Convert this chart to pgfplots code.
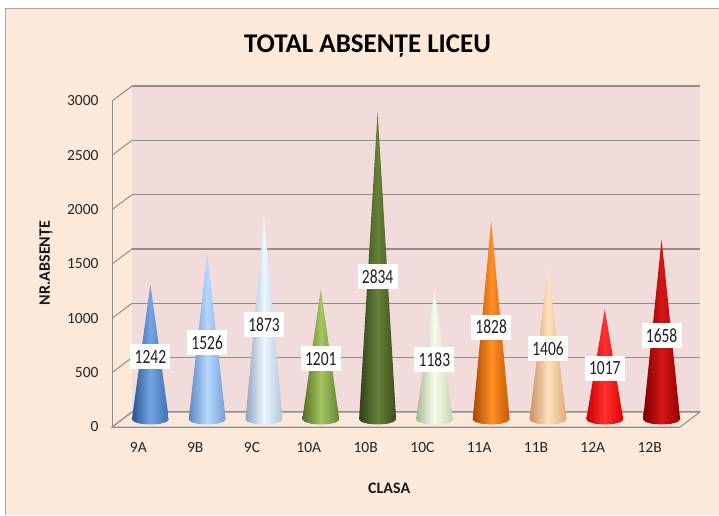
\documentclass[border=0pt]{standalone}
\usepackage{graphicx}
\usepackage{fontspec}
\setmainfont{Carlito}
\usepackage{pgfplots}
\pgfplotsset{compat=1.18}
\usepackage{pgfplotstable}

\definecolor{bg}{HTML}{FDE9D9}
\definecolor{wall}{HTML}{F2DCDB}
\definecolor{floorc}{HTML}{FCE8DA}
\definecolor{gridc}{HTML}{8E8E8E}
\definecolor{frame}{HTML}{A6A6A6}

\pgfplotstableread{
x v
1 1242
2 1526
3 1873
4 1201
5 2834
6 1183
7 1828
8 1406
9 1017
10 1658
}\absdata

\pgfplotsset{
  common/.style={
    scale only axis, anchor=south west,
    width=568pt, height=326pt,
    xmin=0.5, xmax=10.5, ymin=0, ymax=3000,
  },
  cone/.style n args={3}{draw=none, left color={rgb,255:#1}, right color={rgb,255:#2}, middle color={rgb,255:#3}},
}

\begin{document}
\begin{tikzpicture}[x=1pt,y=1pt]
\useasboundingbox (0,0) rectangle (719,515);
\fill[white] (0,0) rectangle (719,515);
\fill[bg] (5,0) rectangle (719,506);
\draw[frame, line width=1pt] (5,0) -- (5,506) -- (719,506);

% back wall with gridlines
\begin{axis}[common, at={(132pt,103pt)},
  axis line style={draw=none},
  xtick=\empty, ytick={0,500,...,3000}, yticklabels={},
  major tick length=0pt,
  ymajorgrids, grid style={gridc, line width=1.4pt},
  axis background/.style={fill=wall}]
\end{axis}

% floor
\filldraw[fill=floorc, draw=gridc, line width=1pt] (112,88) -- (680,88) -- (700,103) -- (132,103) -- cycle;
% depth diagonals on the left
\foreach \k in {0,...,6} \draw[gridc, line width=1pt] (112,88+\k*54.3333) -- (132,103+\k*54.3333);

% cones at mid depth
\begin{axis}[common, at={(122pt,95.5pt)}, hide axis, clip=false]
\addplot[cone={red,40;green,85;blue,145}{red,60;green,110;blue,175}{red,115;green,165;blue,228}]
 coordinates {(0.674,0) (1,1242) (1.326,0) (1.282,-23) (1.163,-40) (1,-46) (0.837,-40) (0.718,-23)};
\addplot[cone={red,95;green,135;blue,192}{red,118;green,158;blue,212}{red,182;green,216;blue,255}]
 coordinates {(1.674,0) (2,1526) (2.326,0) (2.282,-23) (2.163,-40) (2,-46) (1.837,-40) (1.718,-23)};
\addplot[cone={red,145;green,165;blue,192}{red,178;green,196;blue,220}{red,236;green,246;blue,255}]
 coordinates {(2.674,0) (3,1873) (3.326,0) (3.282,-23) (3.163,-40) (3,-46) (2.837,-40) (2.718,-23)};
\addplot[cone={red,82;green,110;blue,38}{red,100;green,130;blue,50}{red,165;green,198;blue,95}]
 coordinates {(3.674,0) (4,1201) (4.326,0) (4.282,-23) (4.163,-40) (4,-46) (3.837,-40) (3.718,-23)};
\addplot[cone={red,48;green,64;blue,24}{red,60;green,78;blue,30}{red,102;green,130;blue,56}]
 coordinates {(4.674,0) (5,2834) (5.326,0) (5.282,-23) (5.163,-40) (5,-46) (4.837,-40) (4.718,-23)};
\addplot[cone={red,165;green,184;blue,145}{red,195;green,210;blue,175}{red,248;green,253;blue,236}]
 coordinates {(5.674,0) (6,1183) (6.326,0) (6.282,-23) (6.163,-40) (6,-46) (5.837,-40) (5.718,-23)};
\addplot[cone={red,168;green,72;blue,0}{red,195;green,92;blue,5}{red,255;green,142;blue,36}]
 coordinates {(6.674,0) (7,1828) (7.326,0) (7.282,-23) (7.163,-40) (7,-46) (6.837,-40) (6.718,-23)};
\addplot[cone={red,200;green,145;blue,100}{red,222;green,170;blue,125}{red,255;green,225;blue,188}]
 coordinates {(7.674,0) (8,1406) (8.326,0) (8.282,-23) (8.163,-40) (8,-46) (7.837,-40) (7.718,-23)};
\addplot[cone={red,200;green,0;blue,0}{red,222;green,0;blue,0}{red,255;green,48;blue,48}]
 coordinates {(8.674,0) (9,1017) (9.326,0) (9.282,-23) (9.163,-40) (9,-46) (8.837,-40) (8.718,-23)};
\addplot[cone={red,120;green,0;blue,0}{red,150;green,0;blue,0}{red,215;green,22;blue,22}]
 coordinates {(9.674,0) (10,1658) (10.326,0) (10.282,-23) (10.163,-40) (10,-46) (9.837,-40) (9.718,-23)};
% data labels
\addplot[draw=none, mark=none, point meta=explicit symbolic,
  nodes near coords={\scalebox{1}[1.3]{\pgfplotspointmeta}},
  every node near coord/.append style={anchor=center, fill=white, text=black!88,
    font=\fontsize{15.5}{18}\selectfont, minimum width=40pt, minimum height=25pt, inner sep=0pt}]
  table[x=x, y expr=0.465*\thisrow{v}, meta=v] {\absdata};
\end{axis}

% front axis with ticks and labels
\begin{axis}[common, at={(112pt,88pt)},
  axis lines*=left, axis line style={gridc, line width=1pt},
  xtick={1,...,10}, xticklabels={9A,9B,9C,10A,10B,10C,11A,11B,12A,12B},
  ytick={0,500,...,3000}, major tick length=0pt,
  scaled ticks=false,
  /pgf/number format/1000 sep={},
  /pgf/number format/assume math mode=true,
  ticklabel style={font=\fontsize{15.5}{18}\selectfont, text=black!85},
  yticklabel style={xshift=-10pt},
  xticklabel style={yshift=-12pt, xshift=-2pt},
  xlabel={CLASA}, ylabel={NR.ABSENȚE},
  label style={font=\bfseries\fontsize{16}{18}\selectfont, text=black!90},
  xlabel style={at={(axis description cs:0.488,-0.187)}, anchor=center},
  ylabel style={at={(axis description cs:-0.116,0.503)}, anchor=center},
]
\end{axis}

\node[anchor=base, font=\bfseries\fontsize{27}{30}\selectfont] at (367.5,462) {TOTAL ABSENȚE LICEU};
\end{tikzpicture}
\end{document}
